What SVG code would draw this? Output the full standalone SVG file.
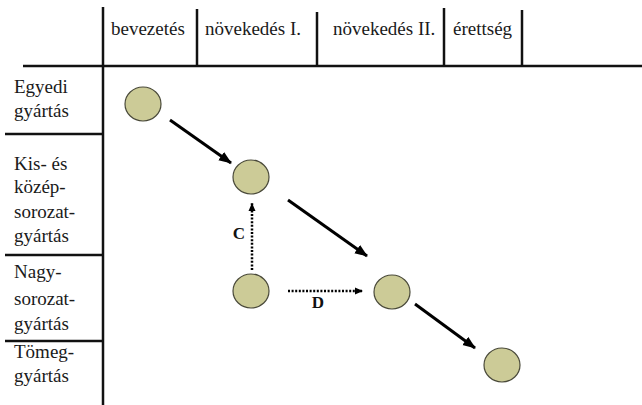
<svg xmlns="http://www.w3.org/2000/svg" width="642" height="405" viewBox="0 0 642 405">
<style>
.grid{stroke:#111;stroke-width:2.5;fill:none}
.node{fill:#cccb97;stroke:#4a4a3a;stroke-width:1.2}
.solid{stroke:#000;stroke-width:3;fill:none}
.dot{stroke:#000;stroke-width:2.5;fill:none;stroke-dasharray:2 1.6}
</style>
<defs>
<marker id="ah" markerUnits="userSpaceOnUse" markerWidth="14" markerHeight="12" refX="12" refY="6" orient="auto">
<path d="M0,1 L13,6 L0,11 Z" fill="#000"/>
</marker>
<marker id="ahs" markerUnits="userSpaceOnUse" markerWidth="10" markerHeight="10" refX="8" refY="4" orient="auto">
<path d="M0,0.5 L8,4 L0,7.5 Z" fill="#000"/>
</marker>
</defs>
<g id="grid">
<line class="grid" x1="23" y1="66" x2="642" y2="66"/>
<line class="grid" x1="103" y1="7" x2="103" y2="405"/>
<line class="grid" x1="197" y1="9" x2="197" y2="66"/>
<line class="grid" x1="317" y1="12" x2="317" y2="66"/>
<line class="grid" x1="444" y1="8" x2="444" y2="66"/>
<line class="grid" x1="522" y1="10" x2="522" y2="66"/>
<line class="grid" x1="5" y1="134" x2="103" y2="134"/>
<line class="grid" x1="5" y1="255" x2="103" y2="255"/>
<line class="grid" x1="5" y1="341" x2="103" y2="341"/>
</g>
<g id="headers">
<text x="111" y="35" font-family="Liberation Serif" font-size="19" fill="#1a1a1a">bevezetés</text>
<text x="205" y="35" font-family="Liberation Serif" font-size="19" fill="#1a1a1a">növekedés I.</text>
<text x="333" y="35" font-family="Liberation Serif" font-size="19" fill="#1a1a1a">növekedés II.</text>
<text x="453" y="35" font-family="Liberation Serif" font-size="19" fill="#1a1a1a">érettség</text>
</g>
<g id="rows">
<text x="14" y="93" font-family="Liberation Serif" font-size="19" fill="#1a1a1a">Egyedi</text>
<text x="14" y="117" font-family="Liberation Serif" font-size="19" fill="#1a1a1a">gyártás</text>
<text x="14" y="170" font-family="Liberation Serif" font-size="19" fill="#1a1a1a">Kis- és</text>
<text x="14" y="193" font-family="Liberation Serif" font-size="19" fill="#1a1a1a">közép-</text>
<text x="14" y="218" font-family="Liberation Serif" font-size="19" fill="#1a1a1a">sorozat-</text>
<text x="14" y="242" font-family="Liberation Serif" font-size="19" fill="#1a1a1a">gyártás</text>
<text x="14" y="278" font-family="Liberation Serif" font-size="19" fill="#1a1a1a">Nagy-</text>
<text x="14" y="305" font-family="Liberation Serif" font-size="19" fill="#1a1a1a">sorozat-</text>
<text x="14" y="330" font-family="Liberation Serif" font-size="19" fill="#1a1a1a">gyártás</text>
<text x="14" y="358" font-family="Liberation Serif" font-size="19" fill="#1a1a1a">Tömeg-</text>
<text x="14" y="382" font-family="Liberation Serif" font-size="19" fill="#1a1a1a">gyártás</text>
</g>
<g id="connectors">
<line class="solid" x1="170" y1="120" x2="231" y2="163" marker-end="url(#ah)"/>
<line class="solid" x1="288" y1="200" x2="367" y2="256" marker-end="url(#ah)"/>
<line class="solid" x1="415" y1="304" x2="475" y2="348" marker-end="url(#ah)"/>
<line class="dot" x1="252" y1="270" x2="252" y2="203" marker-end="url(#ahs)"/>
<line class="dot" x1="288" y1="291" x2="363" y2="291" marker-end="url(#ahs)"/>
<text x="239" y="239" text-anchor="middle" font-family="Liberation Serif" font-size="17" font-weight="bold" fill="#111">C</text>
<text x="318" y="308" text-anchor="middle" font-family="Liberation Serif" font-size="17" font-weight="bold" fill="#111">D</text>
</g>
<g id="n1"><ellipse class="node" cx="143" cy="104" rx="18" ry="17"/></g>
<g id="n2"><ellipse class="node" cx="251" cy="177" rx="18" ry="17"/></g>
<g id="n3"><ellipse class="node" cx="251" cy="291" rx="18" ry="17"/></g>
<g id="n4"><ellipse class="node" cx="392" cy="292" rx="18" ry="17"/></g>
<g id="n5"><ellipse class="node" cx="502" cy="365" rx="18" ry="17"/></g>
</svg>
